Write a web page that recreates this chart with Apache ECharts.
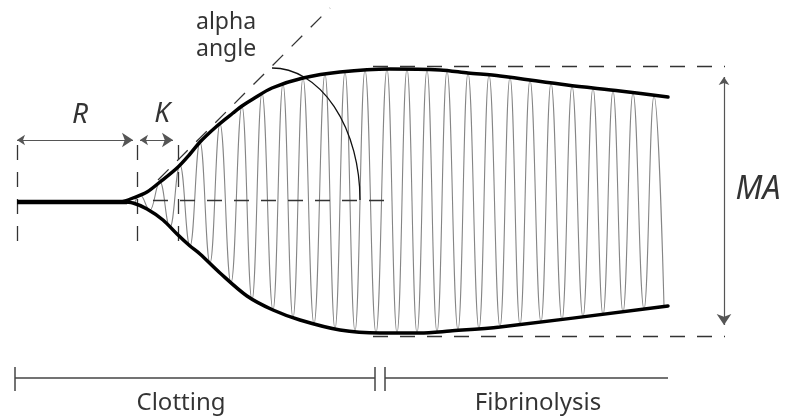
<!DOCTYPE html>
<html>
<head>
<meta charset="utf-8">
<script src="https://cdn.jsdelivr.net/npm/echarts@6/dist/echarts.min.js"></script>
<style>html,body{margin:0;padding:0;background:#fff}#c{width:785px;height:420px}</style>
</head>
<body>
<div id="c"></div>
<script>
// ---- data (time units along x, amplitude units along y; 0 = trace centre) ----
const baseline = [[0, 0], [110, 0]];
const upperEnvelope = [[105,0],[116,4],[130,10],[143,20],[160,34],[173,48],[183,60],[200,76],[216,89],[225,96],[236,103],[255,114],[286,124],[323,130],[373,133],[423,132],[451,129],[483,126],[550,117],[603,111],[651,105]];
const lowerEnvelope = [[105,0],[116,-1],[130,-7],[146,-18],[160,-32],[173,-44],[183,-52],[203,-71],[230,-94],[256,-108],[283,-118],[323,-128],[363,-131],[403,-131],[433,-129],[483,-125],[651,-104]];
const peakTimes = [123,143,163,183,203,225,245,266,286,308,328,348,370,390,410,430,451,472,493,513,534,555,576,596,616,637];
const peakAmps  = [7,20,37,60,78,96,109,118,124,128,130,132,133,133,132,131,129,127,125,122,119,116,114,111,109,106];
const troughTimes = [133,153,173,193,214,235,256,276,297,318,338,359,380,400,420,441,462,483,503,524,545,566,586,606,627,647];
const troughAmps  = [-8,-25,-44,-61,-81,-98,-108,-116,-122,-127,-129,-131,-131,-131,-130,-128,-127,-125,-123,-120,-118,-115,-113,-110,-107,-104];
const oscStart = [118, 0];

const rPhase = [0, 120];          // R time
const kPhase = [120, 161];        // K time
const phaseMarkerRange = [57, -46];
const phaseArrowLevel = 62;
const maxAmplitude = [136, -134]; // MA guide levels
const maGuideSpan = [356, 708];
const maArrow = [707, 125, -123];
const alphaBase = [136, 378, 2];
const alphaTangent = [[141, 22], [313, 194]];
const alphaArcCenter = [255, 2];
const alphaArcRadii = [88, 132];

const timeline = { level: -176, tick: [-165, -189], clotting: [-2, 358], fibrinolysis: [368, 651] };

const labels = [
  { name: 'R', value: [63, 87] },
  { name: 'K', value: [145, 88] },
  { name: 'MA', value: [741, 12] },
  { name: 'alpha', value: [179, 180] },
  { name: 'angle', value: [179, 153] },
  { name: 'Clotting', value: [164, -201] },
  { name: 'Fibrinolysis', value: [521, -201] }
];

// ---- build ----
const osc = [oscStart];
for (let i = 0; i < peakTimes.length; i++) {
  osc.push([peakTimes[i], peakAmps[i]]);
  osc.push([troughTimes[i], troughAmps[i]]);
}
osc.sort((a, b) => a[0] - b[0]);

const dash = [15, 12];
const seg = (a, b) => ({ coords: [a, b] });

const dashedLines = [
  seg([rPhase[0], phaseMarkerRange[0]], [rPhase[0], phaseMarkerRange[1]]),
  seg([rPhase[1], phaseMarkerRange[0]], [rPhase[1], phaseMarkerRange[1]]),
  seg([kPhase[1], phaseMarkerRange[0]], [kPhase[1], phaseMarkerRange[1]]),
  seg([alphaBase[0], alphaBase[2]], [alphaBase[1], alphaBase[2]]),
  seg(alphaTangent[0], alphaTangent[1]),
  seg([maGuideSpan[0], maxAmplitude[0]], [maGuideSpan[1], maxAmplitude[0]]),
  seg([maGuideSpan[0], maxAmplitude[1]], [maGuideSpan[1], maxAmplitude[1]])
];
const arrows = [
  seg([rPhase[0], phaseArrowLevel], [rPhase[1] - 4, phaseArrowLevel]),
  seg([kPhase[0] + 3, phaseArrowLevel], [kPhase[1] - 5, phaseArrowLevel]),
  seg([maArrow[0], maArrow[1]], [maArrow[0], maArrow[2]])
];
const tl = timeline;
const timelineLines = [
  seg([tl.clotting[0], tl.level], [tl.clotting[1], tl.level]),
  seg([tl.fibrinolysis[0], tl.level], [tl.fibrinolysis[1], tl.level]),
  seg([tl.clotting[0], tl.tick[0]], [tl.clotting[0], tl.tick[1]]),
  seg([tl.clotting[1], tl.tick[0]], [tl.clotting[1], tl.tick[1]]),
  seg([tl.fibrinolysis[0], tl.tick[0]], [tl.fibrinolysis[0], tl.tick[1]])
];

const labelStyles = {
  'R': { fontSize: 28, fontStyle: 'italic' },
  'K': { fontSize: 28, fontStyle: 'italic' },
  'MA': { fontSize: 32, fontStyle: 'italic' },
  'alpha': { fontSize: 23, align: 'left' },
  'angle': { fontSize: 23, align: 'left' },
  'Clotting': { fontSize: 24 },
  'Fibrinolysis': { fontSize: 24 }
};

const chart = echarts.init(document.getElementById('c'), null, { renderer: 'canvas' });
chart.setOption({
  animation: false,
  backgroundColor: '#fff',
  grid: { left: 0, right: 0, top: 0, bottom: 0 },
  xAxis: { type: 'value', min: -17, max: 768, show: false },
  yAxis: { type: 'value', min: -218, max: 202, show: false },
  series: [
    { type: 'line', data: osc, smooth: 0.45, smoothMonotone: 'x', symbol: 'none',
      lineStyle: { color: '#858585', width: 1.1 }, z: 2 },
    { type: 'line', data: baseline, symbol: 'none', lineStyle: { color: '#000', width: 4.5 }, z: 4 },
    { type: 'line', data: upperEnvelope, smooth: 0.3, symbol: 'none', lineStyle: { color: '#000', width: 3.5, cap: 'round' }, z: 4 },
    { type: 'line', data: lowerEnvelope, smooth: 0.3, symbol: 'none', lineStyle: { color: '#000', width: 3.5, cap: 'round' }, z: 4 },
    { type: 'lines', coordinateSystem: 'cartesian2d', data: dashedLines, symbol: 'none',
      lineStyle: { color: '#333', width: 1.3, type: dash, opacity: 1 }, z: 3 },
    { type: 'lines', coordinateSystem: 'cartesian2d', data: arrows, symbol: ['arrow', 'arrow'], symbolSize: [8, 11],
      lineStyle: { color: '#555', width: 1.2, opacity: 1 }, z: 3 },
    { type: 'lines', coordinateSystem: 'cartesian2d', data: timelineLines, symbol: 'none',
      lineStyle: { color: '#444', width: 1.5, opacity: 1 }, z: 3 },
    { type: 'custom', data: [0], z: 3,
      renderItem: function (params, api) {
        const c = api.coord(alphaArcCenter);
        const s = api.coord([alphaArcCenter[0], alphaArcCenter[1] + alphaArcRadii[1]]);
        const e = api.coord([alphaArcCenter[0] + alphaArcRadii[0], alphaArcCenter[1]]);
        const rx = e[0] - c[0], ry = c[1] - s[1];
        return { type: 'path',
          shape: { pathData: 'M' + s[0] + ' ' + s[1] + ' A' + rx + ' ' + ry + ' 0 0 1 ' + e[0] + ' ' + e[1] },
          style: { fill: null, stroke: '#111', lineWidth: 1.3 } };
      } },
    { type: 'scatter', symbolSize: 0, z: 5,
      data: labels.map(l => ({ name: l.name, value: l.value,
        label: Object.assign({ show: true, position: 'inside', formatter: l.name,
          color: '#000', fontFamily: 'Noto Sans' }, labelStyles[l.name]) })) }
  ]
});
</script>
</body>
</html>
